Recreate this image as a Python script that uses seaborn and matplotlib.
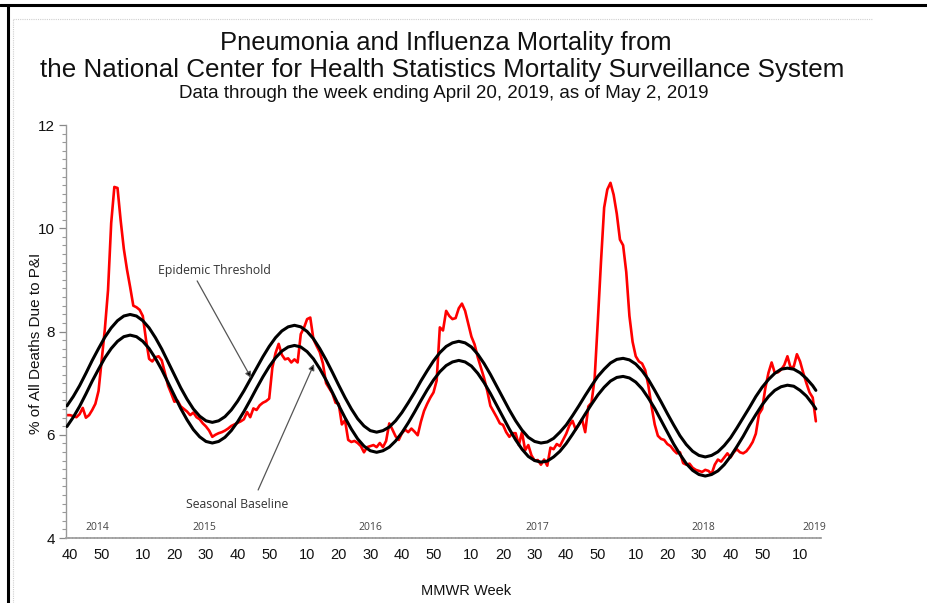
import matplotlib
matplotlib.use("Agg")
import matplotlib.pyplot as plt
import matplotlib.font_manager as fm
from matplotlib.ticker import MultipleLocator
from matplotlib.lines import Line2D
import pandas as pd
import seaborn as sns

# ---------------- data ----------------
# weekly P&I percentage, week index 0 = MMWR week 40 of 2014
week_index = list(range(-1, 237))
pi_pct = [
    6.38, 6.38, 6.36, 6.34, 6.40, 6.52, 6.33, 6.38, 6.48, 6.60, 6.85, 7.45, 8.05, 8.80, 10.10, 10.80,
    10.78, 10.15, 9.60, 9.20, 8.86, 8.50, 8.47, 8.42, 8.30, 7.85, 7.47, 7.42, 7.50, 7.52, 7.44, 7.20,
    6.95, 6.80, 6.64, 6.66, 6.55, 6.50, 6.45, 6.38, 6.43, 6.34, 6.30, 6.22, 6.16, 6.08, 5.96,
    6.00, 6.03, 6.05, 6.08, 6.12, 6.17, 6.20, 6.23, 6.26, 6.30, 6.44, 6.34, 6.51, 6.48, 6.57, 6.62,
    6.65, 6.70, 7.30, 7.58, 7.76, 7.55, 7.46, 7.48, 7.40, 7.46, 7.40, 7.95, 8.07, 8.24, 8.27, 7.85,
    7.72, 7.60, 7.38, 7.00, 6.90, 6.80, 6.62, 6.60, 6.20, 6.28, 5.90, 5.86, 5.88, 5.84, 5.78, 5.66,
    5.76, 5.78, 5.80, 5.76, 5.84, 5.76, 5.88, 6.22, 6.10, 5.97, 5.90, 6.03, 6.10, 6.05, 6.12, 6.06,
    5.99, 6.25, 6.46, 6.60, 6.72, 6.82, 7.05, 8.08, 8.02, 8.40, 8.30, 8.24, 8.26, 8.45, 8.54, 8.40,
    8.15, 7.90, 7.75, 7.50, 7.30, 7.10, 6.85, 6.56, 6.45, 6.34, 6.22, 6.19, 6.05, 5.96, 6.03,
    6.03, 5.80, 6.05, 5.70, 5.80, 5.60, 5.50, 5.51, 5.42, 5.52, 5.40, 5.75, 5.72, 5.82, 5.78, 5.90,
    6.02, 6.18, 6.27, 6.10, 6.20, 6.30, 6.05, 6.55, 6.62, 7.10, 8.20, 9.35, 10.40, 10.75, 10.88, 10.65,
    10.28, 9.78, 9.67, 9.15, 8.30, 7.80, 7.52, 7.42, 7.38, 7.25, 6.95, 6.55, 6.20, 5.98, 5.92, 5.90,
    5.82, 5.78, 5.70, 5.64, 5.66, 5.45, 5.42, 5.44, 5.36, 5.32, 5.30, 5.28, 5.32, 5.30, 5.24, 5.42,
    5.52, 5.48, 5.56, 5.64, 5.56, 5.66, 5.72, 5.66, 5.64, 5.68, 5.76, 5.86, 6.02, 6.40, 6.50, 6.90,
    7.20, 7.40, 7.20, 7.21, 7.26, 7.35, 7.52, 7.30, 7.32, 7.56, 7.42, 7.20, 7.00, 6.82, 6.72, 6.26,
]

# seasonal baseline and epidemic threshold, read every second week
curve_index = list(range(-1, 236, 2)) + [236]
baseline = [
    6.16, 6.34, 6.55, 6.79, 7.04, 7.27, 7.49, 7.67, 7.81, 7.90, 7.93,
    7.90, 7.81, 7.67, 7.48, 7.26, 7.01, 6.76, 6.51, 6.29, 6.10, 5.96, 5.87, 5.84,
    5.87, 5.95, 6.08, 6.25, 6.45, 6.67, 6.90, 7.12, 7.32, 7.49, 7.62, 7.70, 7.73,
    7.70, 7.61, 7.47, 7.28, 7.06, 6.82, 6.57, 6.33, 6.11, 5.92, 5.78, 5.69, 5.66,
    5.69, 5.76, 5.88, 6.04, 6.23, 6.44, 6.66, 6.87, 7.06, 7.22, 7.34, 7.41, 7.44,
    7.41, 7.33, 7.19, 7.01, 6.80, 6.57, 6.34, 6.11, 5.90, 5.72, 5.58, 5.50, 5.47,
    5.49, 5.57, 5.68, 5.83, 6.01, 6.20, 6.40, 6.59, 6.77, 6.92, 7.04, 7.11, 7.13,
    7.10, 7.02, 6.89, 6.71, 6.51, 6.28, 6.05, 5.82, 5.62, 5.44, 5.31, 5.23, 5.20,
    5.23, 5.30, 5.42, 5.58, 5.77, 5.97, 6.19, 6.39, 6.58, 6.74, 6.86, 6.93, 6.96,
    6.94, 6.86, 6.75, 6.59, 6.50,
]
threshold = [
    6.56, 6.74, 6.95, 7.19, 7.44, 7.67, 7.89, 8.07, 8.21, 8.30, 8.33,
    8.30, 8.21, 8.07, 7.88, 7.66, 7.41, 7.16, 6.91, 6.69, 6.50, 6.36, 6.27, 6.24,
    6.27, 6.35, 6.48, 6.65, 6.85, 7.07, 7.29, 7.51, 7.71, 7.88, 8.01, 8.09, 8.12,
    8.09, 8.00, 7.86, 7.67, 7.45, 7.21, 6.96, 6.72, 6.50, 6.31, 6.17, 6.08, 6.05,
    6.08, 6.15, 6.27, 6.43, 6.62, 6.82, 7.04, 7.24, 7.43, 7.59, 7.71, 7.78, 7.81,
    7.78, 7.70, 7.56, 7.38, 7.17, 6.94, 6.71, 6.48, 6.27, 6.09, 5.95, 5.87, 5.84,
    5.86, 5.93, 6.05, 6.19, 6.37, 6.56, 6.76, 6.95, 7.13, 7.27, 7.39, 7.46, 7.48,
    7.45, 7.37, 7.24, 7.07, 6.86, 6.64, 6.41, 6.19, 5.98, 5.81, 5.68, 5.60, 5.57,
    5.60, 5.67, 5.79, 5.94, 6.13, 6.33, 6.53, 6.74, 6.92, 7.07, 7.19, 7.27, 7.29,
    7.27, 7.20, 7.09, 6.95, 6.86,
]

tick_positions = [0, 10, 23, 33, 43, 53, 63, 75, 85, 95, 105, 115, 127, 137, 147, 157, 167,
                  179, 189, 199, 209, 219, 231]
tick_labels = ["40", "50", "10", "20", "30", "40", "50", "10", "20", "30", "40", "50",
               "10", "20", "30", "40", "50", "10", "20", "30", "40", "50", "10"]
year_labels = ["2014", "2015", "2016", "2017", "2018", "2019"]
year_label_x = [8.5, 42.4, 94.9, 147.8, 200.3, 235.4]

# ---------------- style ----------------
sns.set_theme(style="white")
names = {f.name for f in fm.fontManager.ttflist}
narrow = "Liberation Sans Narrow" if "Liberation Sans Narrow" in names else "Liberation Sans"
plt.rcParams["font.family"] = ["Liberation Sans", "DejaVu Sans"]
ann_font = ["Open Sans", "DejaVu Sans"]

W, H = 928, 603
fig = plt.figure(figsize=(W / 100, H / 100), dpi=100)
fig.patch.set_facecolor("white")
x0, x1 = -1.3, 237.5
px_per_week = 3.16
ax = fig.add_axes([66 / W, 65 / H, (x1 - x0) * px_per_week / W, 413 / H])
ax.set_facecolor("white")

df_pi = pd.DataFrame({"week": week_index, "pct": pi_pct})
df_curve = pd.DataFrame({"week": curve_index, "baseline": baseline, "threshold": threshold})

sns.lineplot(data=df_curve, x="week", y="threshold", color="black", linewidth=2.2,
             estimator=None, ax=ax, zorder=3)
sns.lineplot(data=df_curve, x="week", y="baseline", color="black", linewidth=2.2,
             estimator=None, ax=ax, zorder=3)
sns.lineplot(data=df_pi, x="week", y="pct", color="#ff0000", linewidth=1.9,
             estimator=None, ax=ax, zorder=2)

ax.set_xlim(x0, x1)
ax.set_ylim(4, 12)
ax.set_xticks(tick_positions)
ax.set_xticklabels(tick_labels)
ax.set_yticks([4, 6, 8, 10, 12])
ax.yaxis.set_minor_locator(MultipleLocator(1 / 6))
ax.tick_params(axis="x", length=0, pad=7, labelsize=10.5, labelcolor="#111")
ax.tick_params(axis="y", which="major", length=5, width=0.9, color="#888", pad=3,
               labelsize=11, labelcolor="#111", left=True)
ax.tick_params(axis="y", which="minor", length=3, width=0.8, color="#999", left=True)
ax.set_xlabel("")
ax.set_ylabel("")
for s in ["top", "right"]:
    ax.spines[s].set_visible(False)
ax.spines["left"].set_color("#999")
ax.spines["left"].set_linewidth(1.0)
ax.spines["bottom"].set_color("#a0a0a0")
ax.spines["bottom"].set_linewidth(1.3)
ax.spines["bottom"].set_linestyle((0, (1.2, 0.8)))

# year labels
for lab, xp in zip(year_labels, year_label_x):
    ax.text(xp, 4.2, lab, ha="center", va="center", fontsize=7.5, color="#444",
            family=ann_font)

# annotations
ax.text(45.6, 9.18, "Epidemic Threshold", ha="center", va="center", fontsize=8.8,
        color="#333", family=ann_font)
ax.annotate("", xy=(57.3, 7.10), xytext=(40.2, 8.98),
            arrowprops=dict(arrowstyle="-|>", color="#555", lw=0.9, mutation_scale=9,
                            shrinkA=0, shrinkB=0, fc="black"))
ax.text(52.8, 4.64, "Seasonal Baseline", ha="center", va="center", fontsize=8.8,
        color="#333", family=ann_font)
ax.annotate("", xy=(77.2, 7.37), xytext=(59.5, 4.93),
            arrowprops=dict(arrowstyle="-|>", color="#555", lw=0.9, mutation_scale=9,
                            shrinkA=0, shrinkB=0, fc="black"))

# titles
def fit(t, target):
    r = fig.canvas.get_renderer()
    w = t.get_window_extent(r).width
    t.set_fontsize(t.get_fontsize() * target / w)

t1 = fig.text(446 / W, 1 - 43 / H, "Pneumonia and Influenza Mortality from",
              ha="center", va="center", fontsize=17, color="#111", family=[narrow, "DejaVu Sans"])
t2 = fig.text(442 / W, 1 - 70 / H,
              "the National Center for Health Statistics Mortality Surveillance System",
              ha="center", va="center", fontsize=17, color="#111", family=[narrow, "DejaVu Sans"])
t3 = fig.text(444 / W, 1 - 94 / H, "Data through the week ending April 20, 2019, as of May 2, 2019",
              ha="center", va="center", fontsize=12, color="#111", family=[narrow, "DejaVu Sans"])
fig.canvas.draw()
fit(t1, 452)
fit(t2, 805)
fit(t3, 532)

fig.text(36 / W, 1 - 343 / H, "% of All Deaths Due to P&I", rotation=90, ha="center",
         va="center", fontsize=11, color="#111", family=[narrow, "DejaVu Sans"])
fig.text(466 / W, 1 - 591 / H, "MMWR Week", ha="center", va="center", fontsize=10.5,
         color="#111", family=[narrow, "DejaVu Sans"])

# frame decorations
fig.add_artist(Line2D([0, 1], [1 - 5 / H, 1 - 5 / H], transform=fig.transFigure,
                      color="black", lw=2.2))
fig.add_artist(Line2D([8 / W, 8 / W], [0, 1 - 5 / H], transform=fig.transFigure,
                      color="black", lw=2.2))
fig.add_artist(Line2D([13 / W, 872 / W], [1 - 19 / H, 1 - 19 / H], transform=fig.transFigure,
                      color="#cfcfcf", lw=0.8, linestyle=(0, (1, 1))))
fig.add_artist(Line2D([13 / W, 13 / W], [0, 1 - 19 / H], transform=fig.transFigure,
                      color="#cfcfcf", lw=0.8, linestyle=(0, (1, 1))))

fig.savefig("out.png", dpi=100, facecolor="white")
